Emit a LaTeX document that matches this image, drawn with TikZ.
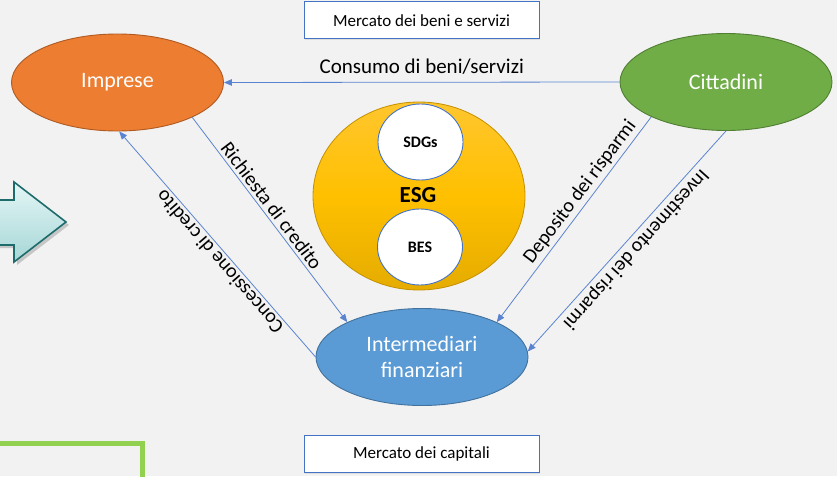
\documentclass[tikz,border=0pt]{standalone}
\usepackage{fontspec}
\setmainfont{Carlito}
\usetikzlibrary{arrows.meta,shapes.geometric,shadows}
\definecolor{bgc}{HTML}{F2F2F2}
\definecolor{orangeF}{HTML}{ED7D31}
\definecolor{orangeD}{HTML}{AE5A21}
\definecolor{greenF}{HTML}{70AD47}
\definecolor{greenD}{HTML}{507E32}
\definecolor{blueF}{HTML}{5B9BD5}
\definecolor{blueD}{HTML}{41719C}
\definecolor{lineC}{HTML}{5B84D0}
\definecolor{boxC}{HTML}{4472C4}
\definecolor{goldT}{HTML}{FFC62E}
\definecolor{goldM}{HTML}{FFC000}
\definecolor{goldB}{HTML}{E5AC00}
\definecolor{goldD}{HTML}{C49000}
\definecolor{limeC}{HTML}{92D050}
\definecolor{tealT}{HTML}{E4F6F6}
\definecolor{tealB}{HTML}{A6D6D6}
\definecolor{tealD}{HTML}{1E6B6C}
\tikzset{
  actor/.style={ellipse, draw, line width=0.9pt, minimum width=212pt, minimum height=97pt,
    inner sep=0pt, text=white, font=\fontsize{22}{26}\selectfont, align=center},
  circ/.style={ellipse, draw=boxC, line width=0.9pt, fill=white, minimum width=85pt,
    minimum height=76pt, inner sep=0pt, font=\bfseries\fontsize{16}{18}\selectfont},
  mbox/.style={rectangle, draw=boxC, line width=1pt, fill=white, minimum width=235pt,
    minimum height=37pt, inner sep=0pt, font=\fontsize{17}{19}\selectfont,
    drop shadow={opacity=0.18, shadow xshift=1.2pt, shadow yshift=-1.2pt}},
  conn/.style={draw=lineC, line width=0.8pt, -{Triangle[length=8pt,width=6.5pt]}},
  lbl/.style={font=\fontsize{20}{22}\selectfont, inner sep=3pt, text=black}
}
\begin{document}
\begin{tikzpicture}[x=1pt,y=-1pt]
\useasboundingbox (0,0) rectangle (837,476);
\clip (0,0) rectangle (837,476);
\fill[bgc] (0,0) rectangle (837,476);

% big arrow on the left
\fill[black, opacity=0.18] (-5,203) -- (17,203) -- (17,185) -- (69,225) -- (17,265) -- (17,248) -- (-5,248) -- cycle;
\draw[tealD, line width=1.6pt, top color=tealT, bottom color=tealB]
  (-5,200) -- (14,200) -- (14,182) -- (66,222) -- (14,262) -- (14,245) -- (-5,245) -- cycle;

% green frame bottom left
\draw[limeC, line width=5.3pt] (-10,443.3) -- (142.8,443.3) -- (142.8,490);

% boxes
\node[mbox] (mbs) at (421.5,20.5) {Mercato dei beni e servizi};
\node[mbox] (mcap) at (421.5,454) {Mercato dei capitali};

% actors
\node[actor, fill=orangeF, draw=orangeD] (imp) at (117.5,82.5) {Imprese};
\node[actor, fill=greenF, draw=greenD] (cit) at (726,82) {Cittadini};
\node[actor, fill=blueF, draw=blueD] (int) at (422,357) {Intermediari\\finanziari};

% ESG
\node[ellipse, draw=goldD, line width=0.8pt, minimum width=212pt, minimum height=188pt,
  inner sep=0pt, top color=goldT, bottom color=goldB, middle color=goldM] (esg) at (419,196) {};
\node[font=\bfseries\fontsize{23}{25}\selectfont] (esgt) at (418,195) {ESG};
\node[circ] (sdg) at (420.5,142) {SDGs};
\node[circ] (bes) at (420,247) {BES};

% connectors
\draw[conn] (cit.west) -- node[lbl, font=\fontsize{21}{23}\selectfont, above=4pt, pos=0.5] (l1) {Consumo di beni/servizi} (imp.east);
\draw[conn] (imp.-25) -- node[lbl, sloped, above, pos=0.46] (l2) {Richiesta di credito} (int.155);
\draw[conn] (int.180) -- node[lbl, sloped, allow upside down, above, pos=0.45] (l3) {Concessione di credito} (imp.-88);
\draw[conn] (cit.205) -- (int.25);
\path (int.25) -- node[lbl, sloped, above, pos=0.60] (l4) {Deposito dei risparmi} (cit.205);
\draw[conn] (cit.-90) -- node[lbl, sloped, allow upside down, above, pos=0.5] (l5) {Investimento dei risparmi} (int.3);
\end{tikzpicture}
\end{document}
